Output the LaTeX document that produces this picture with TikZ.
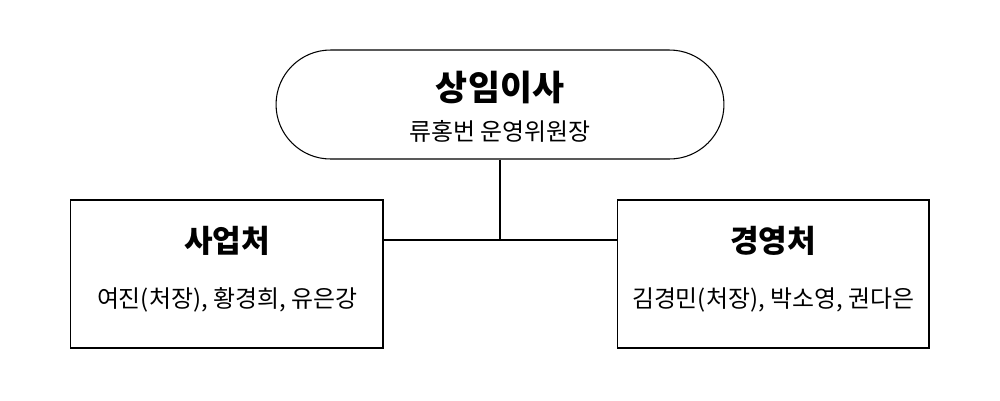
\documentclass[tikz,border=0pt]{standalone}
\usepackage{fontspec}
\newfontfamily\kr{Noto Sans CJK KR}
\begin{document}
\begin{tikzpicture}[x=0.02cm,y=-0.02cm,
  box/.style={draw=black, line width=0.6pt, inner sep=0pt},
  link/.style={draw=black, line width=0.6pt},
  ttl/.style={font=\kr\bfseries\fontsize{19.8}{22}\selectfont, inner sep=0pt},
  boxttl/.style={font=\kr\bfseries\fontsize{17.7}{20}\selectfont, inner sep=0pt},
  sub/.style={font=\kr\fontsize{13.6}{15}\selectfont, inner sep=0pt}]
\useasboundingbox (0,0) rectangle (1000,400);
\node[box, rounded corners=1.09cm, minimum width=8.96cm, minimum height=2.18cm] (top) at (500,104.5) {};
\node[box, minimum width=6.26cm, minimum height=2.96cm] (left) at (226.5,274) {};
\node[box, minimum width=6.24cm, minimum height=2.96cm] (right) at (773,274) {};
\node[ttl] (t1) at (500,87) {상임이사};
\node[sub] (t2) at (500,131) {류홍번 운영위원장};
\node[boxttl] (l1) at (227,241) {사업처};
\node[sub] (l2) at (227,300) {여진(처장), 황경희, 유은강};
\node[boxttl] (r1) at (773,241) {경영처};
\node[sub] (r2) at (773,300) {김경민(처장), 박소영, 권다은};
\coordinate (j) at (500,240);
\draw[link] (top.south) -- (j);
\draw[link] (left.east |- j) -- (right.west |- j);
\end{tikzpicture}
\end{document}
